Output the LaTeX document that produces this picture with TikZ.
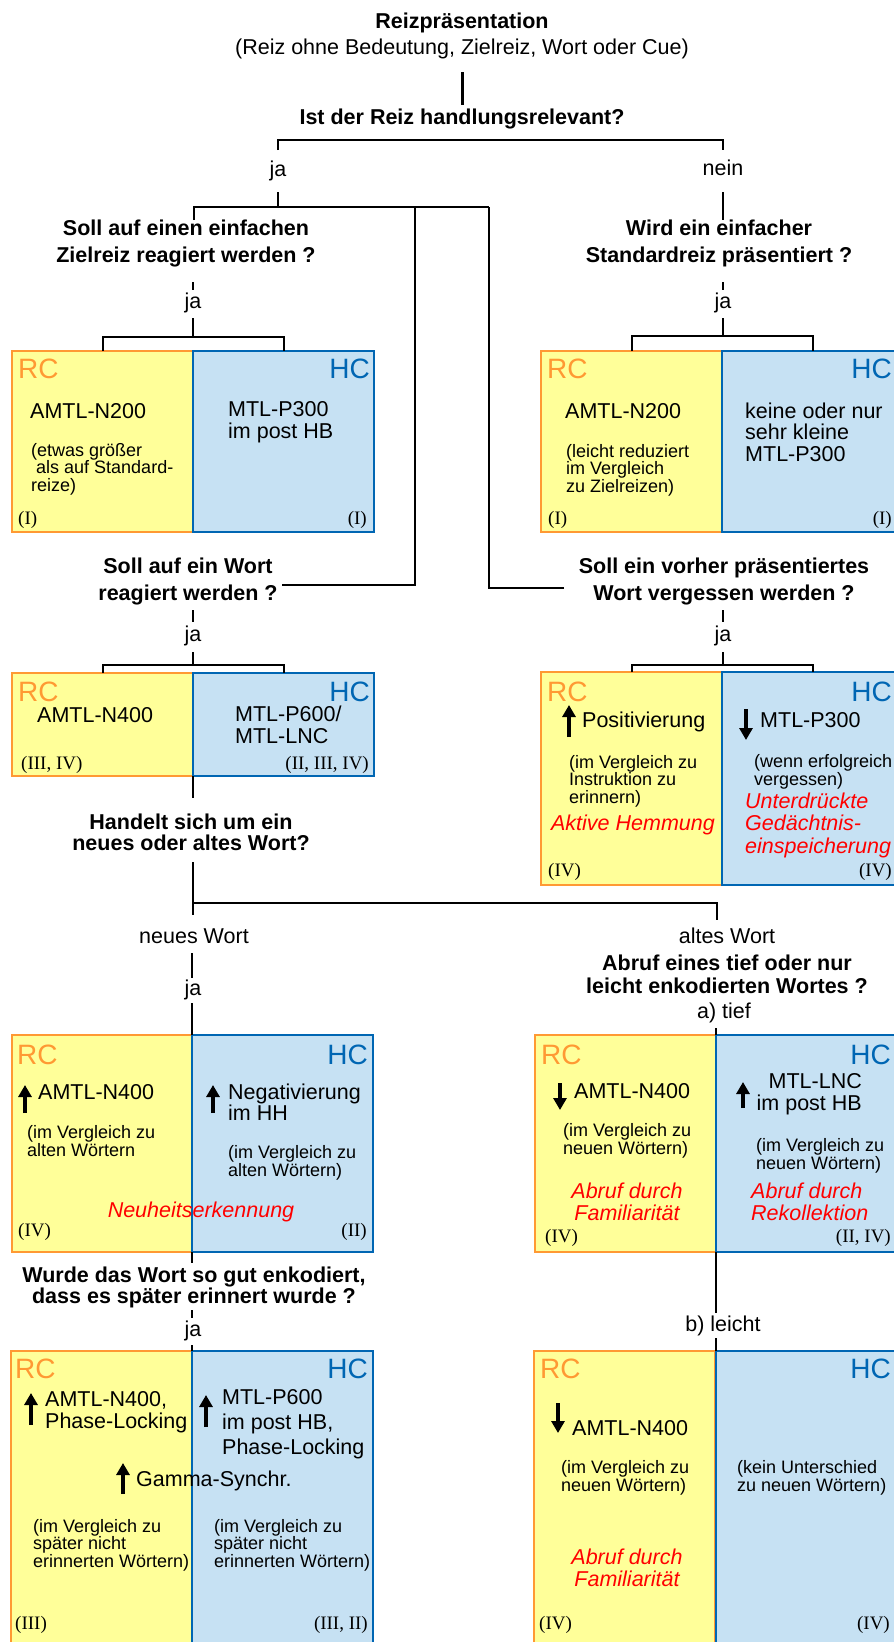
\documentclass[tikz,border=0pt]{standalone}
\usepackage{fontspec}
\setmainfont{Liberation Sans}
\newfontfamily\tms{Liberation Serif}
\usetikzlibrary{arrows.meta}
\definecolor{rcfill}{RGB}{255,255,153}
\definecolor{rcline}{RGB}{255,153,51}
\definecolor{hcfill}{RGB}{198,225,243}
\definecolor{hcline}{RGB}{0,102,179}
\definecolor{rot}{RGB}{255,0,0}

\begin{document}
\begin{tikzpicture}[x=1pt,y=-1pt]
\tikzstyle{frage}=[font=\bfseries\fontsize{21.5}{27}\selectfont,align=center,inner sep=0]
\tikzstyle{wort}=[font=\fontsize{21.5}{26}\selectfont,inner sep=0]
\tikzstyle{rcbox}=[draw=rcline,fill=rcfill,line width=2pt,anchor=north west,minimum width=181pt,inner sep=0,outer sep=0]
\tikzstyle{hcbox}=[draw=hcline,fill=hcfill,line width=2pt,anchor=north west,minimum width=181pt,inner sep=0,outer sep=0]
\tikzstyle{rc}=[font=\fontsize{28}{28}\selectfont,text=rcline,anchor=west,inner sep=0]
\tikzstyle{hc}=[font=\fontsize{28}{28}\selectfont,text=hcline,anchor=east,inner sep=0]
\tikzstyle{haupt}=[font=\fontsize{21.5}{21.5}\selectfont,align=left,anchor=west,inner sep=0]
\tikzstyle{klein}=[font=\fontsize{18}{17.5}\selectfont,align=left,anchor=west,inner sep=0]
\tikzstyle{rot}=[font=\itshape\fontsize{21.5}{21.5}\selectfont,text=rot,align=left,inner sep=0]
\tikzstyle{quelle}=[font=\tms\fontsize{19}{19}\selectfont,inner sep=0]
\tikzstyle{pfeil}=[line width=4pt,-{Triangle[width=13pt,length=12pt]}]
\tikzstyle{linie}=[line width=2pt]
\useasboundingbox (0,0) rectangle (894,1642);
\clip (0,0) rectangle (894,1642);

\node[frage] (t1) at (462,23) {Reizpräsentation};
\node[wort] (t2) at (462,49) {(Reiz ohne Bedeutung, Zielreiz, Wort oder Cue)};
\node[frage] (q1) at (462,119) {Ist der Reiz handlungsrelevant?};
\node[wort] (ja1) at (278,171) {ja};
\node[wort] (nein) at (723,168) {nein};
\node[frage] (q2) at (186,243) {Soll auf einen einfachen\\Zielreiz reagiert werden ?};
\node[frage] (q3) at (719,243) {Wird ein einfacher\\Standardreiz präsentiert ?};
\node[wort] (ja2) at (193,303) {ja};
\node[wort] (ja3) at (723,303) {ja};

\node[rcbox,minimum height=181pt] (rc1) at (12,351) {};
\node[hcbox,minimum height=181pt] (hc1) at (193,351) {};
\node[rcbox,minimum height=181pt] (rc2) at (541,351) {};
\node[hcbox,minimum height=181pt] (hc2) at (722,351) {};
\node[rcbox,minimum height=103pt] (rc3) at (12,673) {};
\node[hcbox,minimum height=103pt] (hc3) at (193,673) {};
\node[rcbox,minimum height=213pt] (rc4) at (541,672) {};
\node[hcbox,minimum height=213pt] (hc4) at (722,672) {};
\node[rcbox,minimum height=217pt] (rc5) at (12,1035) {};
\node[hcbox,minimum height=217pt] (hc5) at (192,1035) {};
\node[rcbox,minimum height=217pt] (rc6) at (535,1035) {};
\node[hcbox,minimum height=217pt] (hc6) at (716,1035) {};
\node[rcbox,minimum height=320pt] (rc7) at (11,1351) {};
\node[hcbox,minimum height=320pt] (hc7) at (192,1351) {};
\node[rcbox,minimum height=320pt] (rc8) at (534,1351) {};
\node[hcbox,minimum height=320pt] (hc8) at (716,1351) {};

\coordinate (s0) at (462,72);
\coordinate (s1) at (462,105);
\coordinate (k0) at (462,140);
\coordinate (k1) at (278,150);
\coordinate (k2) at (723,150);
\coordinate (j1) at (278,192);
\coordinate (m1) at (278,207);
\coordinate (m2) at (415,207);
\coordinate (m3) at (489,207);
\coordinate (v1) at (194,220);
\coordinate (v2) at (282,585);
\coordinate (v3) at (564,588);
\coordinate (n1) at (723,192);
\coordinate (n2) at (723,220);
\coordinate (d1) at (193,282);
\coordinate (d2) at (193,290);
\coordinate (d3) at (193,318);
\coordinate (d4) at (193,337);
\coordinate (e1) at (723,282);
\coordinate (e2) at (723,290);
\coordinate (e3) at (723,318);
\coordinate (e4) at (723,336);
\coordinate (f1) at (193,610);
\coordinate (f2) at (193,622);
\coordinate (f3) at (193,652);
\coordinate (f4) at (193,665);
\coordinate (g1) at (723,610);
\coordinate (g2) at (723,622);
\coordinate (g3) at (723,652);
\coordinate (g4) at (723,665);
\coordinate (w1) at (193,798);
\coordinate (w2) at (193,862);
\coordinate (w3) at (193,915);
\coordinate (w5) at (193,903);
\coordinate (w4) at (717,920);
\coordinate (w6) at (192,953);
\coordinate (w7) at (192,978);
\coordinate (w8) at (192,1003);
\coordinate (x0) at (716,1028);
\coordinate (x1) at (716,1313);
\coordinate (x2) at (716,1338);
\coordinate (y1) at (192,1263);
\coordinate (y2) at (192,1310);
\coordinate (y3) at (192,1318);
\coordinate (y4) at (192,1345);

\draw[line width=3pt] (s0) -- (s1);
\draw[linie] (k1) |- (k0) -| (k2);
\draw[linie] (j1) -- (m1);
\draw[linie] (v1) |- (m3);
\draw[linie] (v2) -| (m2);
\draw[linie] (v3) -| (m3);
\draw[linie] (n1) -- (n2);
\draw[linie] (d1) -- (d2);
\draw[linie] (d3) -- (d4);
\draw[linie] (rc1.north) |- (d4) -| (hc1.north);
\draw[linie] (e1) -- (e2);
\draw[linie] (e3) -- (e4);
\draw[linie] (rc2.north) |- (e4) -| (hc2.north);
\draw[linie] (f1) -- (f2);
\draw[linie] (f3) -- (f4);
\draw[linie] (rc3.north) |- (f4) -| (hc3.north);
\draw[linie] (g1) -- (g2);
\draw[linie] (g3) -- (g4);
\draw[linie] (rc4.north) |- (g4) -| (hc4.north);
\draw[linie] (rc3.south east) -- (w1);
\draw[linie] (w2) -- (w3);
\draw[linie] (w5) -| (w4);
\draw[linie] (w6) -- (w7);
\draw[linie] (w8) -- (hc5.north west);
\draw[linie] (x0) -- (hc6.north west);
\draw[linie] (hc6.south west) -- (x1);
\draw[linie] (x2) -- (hc8.north west);
\draw[linie] (hc5.south west) -- (y1);
\draw[linie] (y2) -- (y3);
\draw[linie] (y4) -- (hc7.north west);

\node[frage] (q4) at (188,581) {Soll auf ein Wort\\reagiert werden ?};
\node[frage] (q5) at (724,581) {Soll ein vorher präsentiertes\\Wort vergessen werden ?};
\node[wort] (ja4) at (193,636) {ja};
\node[wort] (ja5) at (723,636) {ja};
\node[frage,font=\bfseries\fontsize{21.5}{21}\selectfont] (q6) at (191,832) {Handelt sich um ein\\neues oder altes Wort?};
\node[wort] (neu) at (194,936) {neues Wort};
\node[wort] (alt) at (727,936) {altes Wort};
\node[wort] (ja6) at (193,990) {ja};
\node[frage,font=\bfseries\fontsize{21.5}{23}\selectfont] (q7) at (727,974) {Abruf eines tief oder nur\\leicht enkodierten Wortes ?};
\node[wort] (tief) at (724,1013) {a) tief};
\node[frage,font=\bfseries\fontsize{21.5}{20}\selectfont] (q8) at (194,1287) {Wurde das Wort so gut enkodiert,\\dass es später erinnert wurde ?};
\node[wort] (ja7) at (193,1331) {ja};
\node[wort] (leicht) at (723,1326) {b) leicht};

\node[rc] (r1) at (18,369) {RC};
\node[hc] (h1) at (370,369) {HC};
\node[haupt] (a1) at (30,411) {AMTL-N200};
\node[klein] (a2) at (31,469) {(etwas größer\\\hspace*{5pt}als auf Standard-\\reize)};
\node[haupt] (a3) at (228,422) {MTL-P300\\im post HB};
\node[quelle,anchor=west] (a4) at (18,520) {(I)};
\node[quelle,anchor=east] (a5) at (367,520) {(I)};

\node[rc] (r2) at (547,369) {RC};
\node[hc] (h2) at (892,369) {HC};
\node[haupt] (b1) at (565,411) {AMTL-N200};
\node[klein] (b2) at (566,470) {(leicht reduziert\\im Vergleich\\zu Zielreizen)};
\node[haupt] (b3) at (745,432) {keine oder nur\\sehr kleine\\MTL-P300};
\node[quelle,anchor=west] (b4) at (548,520) {(I)};
\node[quelle,anchor=east] (b5) at (892,520) {(I)};

\node[rc] (r3) at (18,692) {RC};
\node[hc] (h3) at (370,692) {HC};
\node[haupt] (c1) at (37,715) {AMTL-N400};
\node[haupt] (c2) at (235,725) {MTL-P600/\\MTL-LNC};
\node[quelle,anchor=west] (c3) at (21,765) {(III, IV)};
\node[quelle,anchor=east] (c4) at (369,765) {(II, III, IV)};

\node[rc] (r4) at (547,692) {RC};
\node[hc] (h4) at (892,692) {HC};
\coordinate (u1) at (569,737);
\coordinate (u1e) at (569,705);
\draw[pfeil] (u1) -- (u1e);
\node[haupt] (o1) at (582,722) {Positivierung};
\coordinate (u2) at (746,709);
\coordinate (u2e) at (746,740);
\draw[pfeil] (u2) -- (u2e);
\node[haupt] (o2) at (760,720) {MTL-P300};
\node[klein] (o3) at (569,781) {(im Vergleich zu\\Instruktion zu\\erinnern)};
\node[rot] (o4) at (633,825) {Aktive Hemmung};
\node[klein] (o5) at (754,772) {(wenn erfolgreich\\vergessen)};
\node[rot,anchor=west,font=\itshape\fontsize{21.5}{22.5}\selectfont] (o6) at (745,825) {Unterdrückte\\Gedächtnis-\\einspeicherung};
\node[quelle,anchor=west] (o7) at (548,872) {(IV)};
\node[quelle,anchor=east] (o8) at (892,872) {(IV)};

\node[rc] (r5) at (17,1055) {RC};
\node[hc] (h5) at (368,1055) {HC};
\coordinate (u3) at (25,1113);
\coordinate (u3e) at (25,1085);
\draw[pfeil] (u3) -- (u3e);
\node[haupt] (p1) at (38,1092) {AMTL-N400};
\node[klein] (p2) at (27,1141) {(im Vergleich zu\\alten Wörtern};
\coordinate (u4) at (213,1113);
\coordinate (u4e) at (213,1085);
\draw[pfeil] (u4) -- (u4e);
\node[haupt] (p3) at (228,1102) {Negativierung\\im HH};
\node[klein] (p4) at (228,1163) {(im Vergleich zu\\alten Wörtern)};
\node[rot] (p5) at (201,1212) {Neuheitserkennung};
\node[quelle,anchor=west] (p6) at (18,1232) {(IV)};
\node[quelle,anchor=east] (p7) at (367,1232) {(II)};

\node[rc] (r6) at (541,1055) {RC};
\node[hc] (h6) at (891,1055) {HC};
\coordinate (u5) at (560,1083);
\coordinate (u5e) at (560,1110);
\draw[pfeil] (u5) -- (u5e);
\node[haupt] (z1) at (574,1091) {AMTL-N400};
\node[klein] (z2) at (563,1141) {(im Vergleich zu\\neuen Wörtern)};
\node[rot,align=center] (z3) at (627,1202) {Abruf durch\\Familiarität};
\coordinate (u6) at (743,1108);
\coordinate (u6e) at (743,1082);
\draw[pfeil] (u6) -- (u6e);
\node[haupt,align=right,anchor=east] (z4) at (862,1094) {MTL-LNC\\im post HB};
\node[klein] (z5) at (756,1156) {(im Vergleich zu\\neuen Wörtern)};
\node[rot,anchor=west] (z6) at (751,1202) {Abruf durch\\Rekollektion};
\node[quelle,anchor=west] (z7) at (545,1238) {(IV)};
\node[quelle,anchor=east] (z8) at (891,1238) {(II, IV)};

\node[rc] (r7) at (15,1369) {RC};
\node[hc] (h7) at (368,1369) {HC};
\coordinate (u7) at (31,1425);
\coordinate (u7e) at (31,1393);
\draw[pfeil] (u7) -- (u7e);
\node[haupt] (i1) at (45,1412) {AMTL-N400,\\Phase-Locking};
\coordinate (u8) at (206,1427);
\coordinate (u8e) at (206,1395);
\draw[pfeil] (u8) -- (u8e);
\node[haupt,font=\fontsize{21.5}{25}\selectfont] (i2) at (222,1424) {MTL-P600\\im post HB,\\Phase-Locking};
\coordinate (u9) at (123,1494);
\coordinate (u9e) at (123,1463);
\draw[pfeil] (u9) -- (u9e);
\node[haupt] (i3) at (136,1481) {Gamma-Synchr.};
\node[klein] (i4) at (33,1545) {(im Vergleich zu\\später nicht\\erinnerten Wörtern)};
\node[klein] (i5) at (214,1545) {(im Vergleich zu\\später nicht\\erinnerten Wörtern)};
\node[quelle,anchor=west] (i6) at (15,1625) {(III)};
\node[quelle,anchor=east] (i7) at (368,1625) {(III, II)};

\node[rc] (r8) at (540,1369) {RC};
\node[hc] (h8) at (891,1369) {HC};
\coordinate (u10) at (558,1403);
\coordinate (u10e) at (558,1433);
\draw[pfeil] (u10) -- (u10e);
\node[haupt] (l1) at (572,1428) {AMTL-N400};
\node[klein] (l2) at (561,1478) {(im Vergleich zu\\neuen Wörtern)};
\node[klein] (l3) at (737,1478) {(kein Unterschied\\zu neuen Wörtern)};
\node[rot,align=center] (l4) at (627,1568) {Abruf durch\\Familiarität};
\node[quelle,anchor=west] (l5) at (539,1625) {(IV)};
\node[quelle,anchor=east] (l6) at (890,1625) {(IV)};
\end{tikzpicture}
\end{document}
